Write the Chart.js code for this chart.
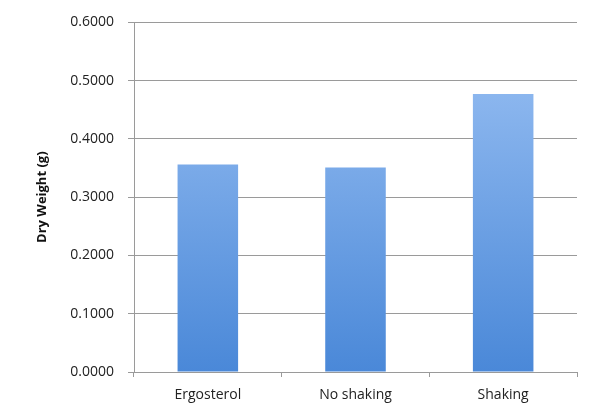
<!DOCTYPE html>
<html lang="en">
<head>
    <meta charset="UTF-8">
    <title>Dry Weight</title>
    <script src="https://cdn.jsdelivr.net/npm/chart.js"></script>
    <style>
        body { margin: 0; background: white; }
        .wrap { width: 597px; height: 419px; }
    </style>
</head>
<body>
    <div class="wrap"><canvas id="dryChart"></canvas></div>

    <script>
        const categories = ['Ergosterol', 'No shaking', 'Shaking'];
        const dryWeight = [0.356, 0.351, 0.477];
        const yTicks = [0, 0.1, 0.2, 0.3, 0.4, 0.5, 0.6];

        let ctx = document.getElementById('dryChart').getContext('2d');

        function barFill(context) {
            const area = context.chart.chartArea;
            if (!area) return '#6aa0e6';
            const g = context.chart.ctx.createLinearGradient(0, area.top, 0, area.bottom);
            g.addColorStop(0, '#9cc2f4');
            g.addColorStop(1, '#4a88d8');
            return g;
        }

        new Chart(ctx, {
            type: 'bar',
            data: {
                labels: categories,
                datasets: [{
                    label: 'Dry Weight (g)',
                    data: dryWeight,
                    backgroundColor: barFill,
                    borderWidth: 0,
                    categoryPercentage: 1,
                    barPercentage: 0.41
                }]
            },
            options: {
                responsive: true,
                maintainAspectRatio: false,
                animation: false,
                layout: { padding: { top: 18, right: 20, left: 34, bottom: 0 } },
                plugins: { legend: { display: false }, tooltip: { enabled: false } },
                scales: {
                    y: {
                        min: 0,
                        max: 0.6,
                        afterBuildTicks: s => { s.ticks = yTicks.map(v => ({ value: v })); },
                        afterFit: s => { s.width = 100; },
                        ticks: {
                            callback: v => Number(v).toFixed(4),
                            color: '#222',
                            font: { family: 'Open Sans', size: 14 },
                            padding: 14
                        },
                        grid: { color: '#9a9a9a', lineWidth: 1, tickLength: 6 },
                        border: { color: '#9a9a9a' },
                        title: {
                            display: true,
                            text: 'Dry Weight (g)',
                            color: '#111',
                            font: { family: 'Open Sans', size: 13, weight: 'bold' },
                            padding: 0
                        }
                    },
                    x: {
                        afterFit: s => { s.height = 47; },
                        ticks: {
                            color: '#222',
                            font: { family: 'Open Sans', size: 14 },
                            padding: 10
                        },
                        grid: { drawOnChartArea: false, color: '#9a9a9a', tickLength: 5, offset: true },
                        border: { color: '#9a9a9a' }
                    }
                }
            }
        });
    </script>
</body>
</html>
